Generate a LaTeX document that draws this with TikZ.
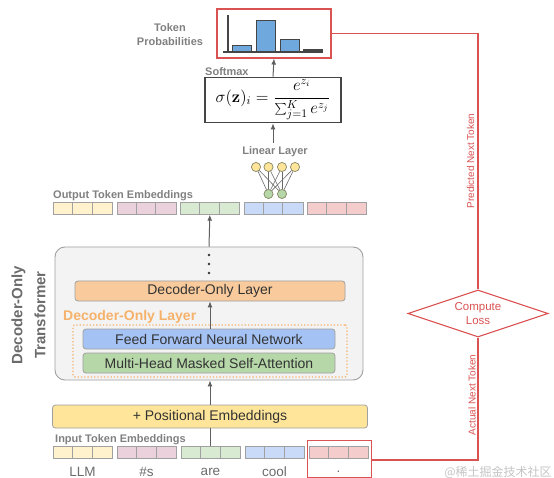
\documentclass[tikz,border=0pt]{standalone}
\usepackage[no-math]{fontspec}
\usepackage{graphicx}
\setmainfont{Liberation Sans}
\newfontfamily\cjkfont{Noto Sans CJK SC}
\usetikzlibrary{arrows.meta,shapes.geometric}
\definecolor{cy}{HTML}{FFF2CC}
\definecolor{cp}{HTML}{EAD1DC}
\definecolor{cg}{HTML}{D9EAD3}
\definecolor{cb}{HTML}{C9DAF8}
\definecolor{cr}{HTML}{F4CCCC}
\definecolor{cellb}{HTML}{A0A0A0}
\definecolor{posf}{HTML}{FFE599}
\definecolor{decf}{HTML}{F9CB9C}
\definecolor{ffnf}{HTML}{A4C2F4}
\definecolor{mhaf}{HTML}{B6D7A8}
\definecolor{transf}{HTML}{F3F3F3}
\definecolor{transb}{HTML}{A0A0A0}
\definecolor{labelc}{HTML}{808080}
\definecolor{titlec}{HTML}{6B6B6B}
\definecolor{textd}{HTML}{333333}
\definecolor{orangel}{HTML}{F6B26B}
\definecolor{arrowc}{HTML}{5F5F5F}
\definecolor{redc}{RGB}{218,82,82}
\definecolor{barf}{HTML}{6FA8DC}
\definecolor{dark}{HTML}{454545}
\definecolor{neub}{HTML}{8A8A6A}
\definecolor{wm}{HTML}{C4C4C4}
\begin{document}
\begin{tikzpicture}[x=1pt,y=-1pt,
  arr/.style={-{Latex[length=6pt,width=5pt]}, draw=arrowc, line width=1pt},
  cellgrp/.style={draw=cellb, line width=0.7pt, minimum width=59pt, minimum height=12pt, inner sep=0pt, anchor=north west},
  layer/.style={draw=transb, line width=0.8pt, rounded corners=3pt, minimum height=20pt, inner sep=0pt, font=\fontsize{14}{16}\selectfont, text=textd},
  lbl/.style={font=\fontsize{11}{13}\selectfont\bfseries, text=labelc, inner sep=0pt},
  tok/.style={font=\fontsize{13.5}{15}\selectfont, text=titlec, inner sep=0pt},
  redline/.style={draw=redc, line width=1.1pt},
  redtxt/.style={text=redc, font=\fontsize{10}{12}\selectfont, inner sep=0pt},
  neu/.style={circle, draw=neub, line width=0.6pt, minimum size=9pt, inner sep=0pt},
  wire/.style={draw=dark!80, line width=0.6pt}]
\useasboundingbox (0,0) rectangle (554,478);

% ---------- Token probabilities ----------
\node[redline, draw, minimum width=114pt, minimum height=49pt, inner sep=0pt] (prob) at (274,33.5) {};
\draw[dark, line width=1.2pt] (228,15) -- (228,53);
\draw[fill=barf, draw=dark, line width=0.8pt] (232,45) rectangle (251,52);
\draw[fill=barf, draw=dark, line width=0.8pt] (256,20) rectangle (275,52);
\draw[fill=barf, draw=dark, line width=0.8pt] (280,39) rectangle (299,52);
\draw[fill=dark, draw=dark, line width=0.8pt] (303,49.5) rectangle (322,52);
\draw[dark, line width=2pt] (223,52.5) -- (323,52.5);
\node[lbl, align=center] (problbl) at (170,34.5) {Token\\[1pt]Probabilities};

% ---------- Softmax ----------
\node[draw=dark, line width=1.8pt, minimum width=136pt, minimum height=45pt, inner sep=0pt] (soft) at (273,100)
  {\scalebox{1.16}{\fontsize{14}{16}\selectfont$\displaystyle \sigma(\mathbf{z})_i = \frac{e^{z_i}}{\sum_{j=1}^{K} e^{z_j}}$}};
\node[lbl, anchor=base west] (softlbl) at (205,75.5) {Softmax};
\draw[arr] (soft.north) -- (prob.south);

% ---------- Linear layer ----------
\node[lbl] (lin) at (275,152) {Linear Layer};
\draw[arr] ([yshift=4pt]lin.north -| soft.south) -- (soft.south);
\node[neu, fill=posf] (y1) at (256,167) {};
\node[neu, fill=posf] (y2) at (268.5,167) {};
\node[neu, fill=posf] (y3) at (282,167) {};
\node[neu, fill=posf] (y4) at (295,167) {};
\node[neu, fill=mhaf] (g1) at (268.5,194) {};
\node[neu, fill=mhaf] (g2) at (282,194) {};
\foreach \a in {y1,y2,y3,y4}{\foreach \b in {g1,g2}{\draw[wire] (\a) -- (\b);}}
\foreach \a in {y1,y2,y3,y4}{\node[neu, fill=posf] at (\a) {};}
\foreach \a in {g1,g2}{\node[neu, fill=mhaf] at (\a) {};}

% ---------- Output token embeddings ----------
\node[lbl, anchor=base west] (outlbl) at (53,199) {Output Token Embeddings};
\foreach \g/\x/\c in {1/53/cy,2/116.5/cp,3/180/cg,4/243.5/cb,5/307/cr}{
  \node[cellgrp, fill=\c] (o\g) at (\x,202) {};
  \draw[cellb, line width=0.7pt] ([xshift=19.67pt]o\g.north west) -- ([xshift=19.67pt]o\g.south west);
  \draw[cellb, line width=0.7pt] ([xshift=39.33pt]o\g.north west) -- ([xshift=39.33pt]o\g.south west);
}

% ---------- Transformer ----------
\node[draw=transb, fill=transf, line width=0.9pt, rounded corners=10pt, minimum width=308pt, minimum height=133pt, inner sep=0pt] (trans) at (209,313.5) {};
\draw[arr] (trans.north) -- (o3.south);
\fill[textd] (209,255) circle (1.3pt) (209,264) circle (1.3pt) (209,273) circle (1.3pt);
\node[layer, fill=decf, minimum width=270pt] (dec) at (210,291) {Decoder-Only Layer};
\node[font=\fontsize{14}{16}\selectfont\bfseries, text=orangel, anchor=base west, inner sep=0pt] (declbl) at (63,320) {Decoder-Only Layer};
\node[draw=orangel, dotted, line width=1.3pt, rounded corners=2pt, minimum width=274pt, minimum height=52pt, inner sep=0pt] (dotbox) at (210,351) {};
\node[layer, fill=ffnf, minimum width=252pt] (ffn) at (209,339) {Feed Forward Neural Network};
\node[layer, fill=mhaf, minimum width=252pt] (mha) at (209,363) {Multi-Head Masked Self-Attention};
\draw[arr] (ffn.north -| dec.south) -- (dec.south);
\node[rotate=90, align=center, font=\fontsize{15}{23}\selectfont\bfseries, text=titlec, inner sep=0pt] (translbl) at (28.5,315) {Decoder-Only\\Transformer};

% ---------- Positional embeddings ----------
\node[layer, fill=posf, minimum width=315pt, minimum height=23pt] (pos) at (210,416.5) {+ Positional Embeddings};
\draw[arr] (pos.north) -- (pos.north |- trans.south);

% ---------- Input token embeddings ----------
\node[lbl, anchor=base west] (inlbl) at (55,442) {Input Token Embeddings};
\foreach \g/\x/\c/\t in {1/53/cy/LLM,2/117/cp/\#s,3/181/cg/are,4/245/cb/cool,5/309/cr/.}{
  \node[cellgrp, fill=\c] (i\g) at (\x,446) {};
  \draw[cellb, line width=0.7pt] ([xshift=19.67pt]i\g.north west) -- ([xshift=19.67pt]i\g.south west);
  \draw[cellb, line width=0.7pt] ([xshift=39.33pt]i\g.north west) -- ([xshift=39.33pt]i\g.south west);
  \node[tok] (t\g) at (\x+29.5,471.5) {\t};
}
\draw[arrowc, line width=1pt] (i3.north) -- (i3.north |- pos.south);

% ---------- Loss ----------
\node[redline, draw, minimum width=64pt, minimum height=37pt, inner sep=0pt] (act) at (339.5,459) {};
\node[diamond, aspect=3, redline, draw, minimum width=140pt, minimum height=47pt, inner sep=0pt, align=center, text=redc, font=\fontsize{11.5}{13.5}\selectfont] (loss) at (478,313.5) {Compute\\Loss};
\coordinate (ctop) at (478,33.5);
\coordinate (cbot) at (478,460);
\draw[redline] (prob.east) -- (ctop) -- (loss.north);
\draw[redline] (loss.south) -- (cbot) -- (act.east |- cbot);
\node[redtxt, rotate=90] (predlbl) at (470.5,161) {Predicted Next Token};
\node[redtxt, rotate=90] (actlbl) at (472,395) {Actual Next Token};

% ---------- watermark ----------
\node[text=wm, font=\cjkfont\fontsize{12}{14}\selectfont, inner sep=0pt] (wmark) at (498,472.5) {@稀土掘金技术社区};
\end{tikzpicture}
\end{document}
